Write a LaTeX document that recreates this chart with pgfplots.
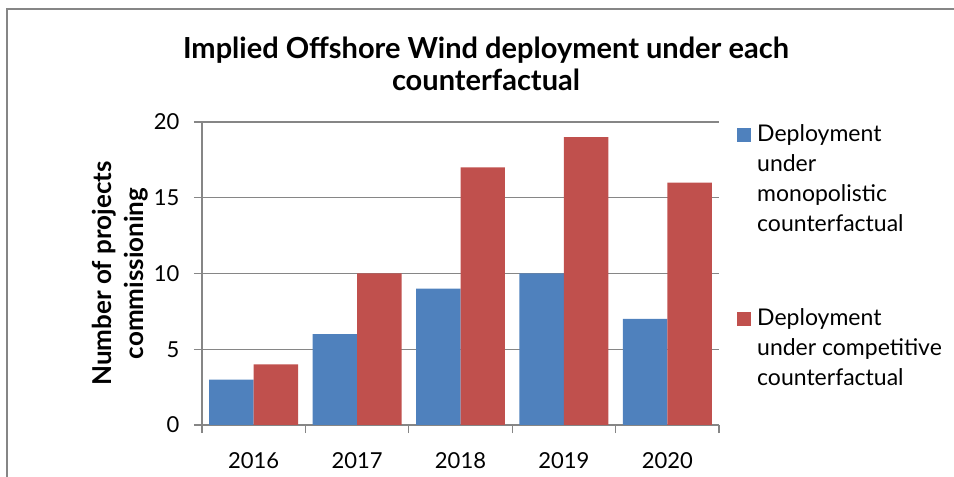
\documentclass[border=0pt]{standalone}
\usepackage{pgfplots}
\pgfplotsset{compat=1.18}
\usepackage{fontspec}
\setmainfont{Lato}
\definecolor{cblue}{HTML}{4F81BD}
\definecolor{cred}{HTML}{C0504D}
\definecolor{cgrid}{HTML}{868686}
\begin{document}
\begin{tikzpicture}[x=1pt,y=1pt]
\useasboundingbox (0,0) rectangle (954,477);
\draw[color=cgrid, line width=2pt] (7,0) -- (7,468) -- (954,468);
\node[font=\fontsize{29}{32}\selectfont\bfseries, align=center] at (486,413) {Implied Offshore Wind deployment under each\\counterfactual};
\begin{axis}[
 at={(202pt,52pt)}, anchor=south west, scale only axis, width=517pt, height=303pt,
 xmin=-0.5, xmax=4.5, ymin=0, ymax=20,
 ybar, bar width=0.43,
 xtick={0,1,2,3,4}, xticklabels={2016,2017,2018,2019,2020},
 major x tick style={draw=none},
 minor xtick={-0.5,0.5,1.5,2.5,3.5,4.5},
 ytick={0,5,10,15,20},
 tick align=outside, major tick length=8pt, minor tick length=8pt,
 tick style={color=cgrid, line width=1.3pt},
 axis x line*=bottom, axis y line*=left,
 axis line style={color=cgrid, line width=1.3pt, -},
 ymajorgrids, grid style={color=cgrid, line width=1.3pt},
 ticklabel style={font=\fontsize{22}{26}\selectfont},
 xticklabel style={yshift=-16pt},
 yticklabel style={xshift=-11pt},
 /pgf/number format/assume math mode=true,
 ylabel={Number of projects\\commissioning},
 ylabel style={at={(axis description cs:-0.1586,0.5)}, anchor=center, align=center, font=\fontsize{26}{32}\selectfont\bfseries},
 legend style={at={(1.0348,0.990)}, anchor=north west, draw=none, fill=none, font=\fontsize{23}{30}\selectfont, row sep=8pt, column sep=6pt, nodes={inner sep=0pt, text height=16pt, text depth=6pt}, inner sep=0pt},
 legend cell align=left,
 legend image code/.code={\fill[#1] (0pt,-6pt) rectangle (14pt,8pt);},
]
\addplot[fill=cblue, draw=none, bar shift=-0.215] coordinates {(0,3) (1,6) (2,9) (3,10) (4,7)};
\addlegendentry{Deployment}
\addlegendimage{empty legend}\addlegendentry{under}
\addlegendimage{empty legend}\addlegendentry{monopolistic}
\addlegendimage{empty legend}\addlegendentry{counterfactual}
\addlegendimage{empty legend}\addlegendentry[text height=18pt]{}
\addlegendimage{empty legend}\addlegendentry[text height=18pt]{}
\addplot[fill=cred, draw=none, bar shift=0.215] coordinates {(0,4) (1,10) (2,17) (3,19) (4,16)};
\addlegendentry{Deployment}
\addlegendimage{empty legend}\addlegendentry{under competitive}
\addlegendimage{empty legend}\addlegendentry{counterfactual}
\end{axis}
\end{tikzpicture}
\end{document}
